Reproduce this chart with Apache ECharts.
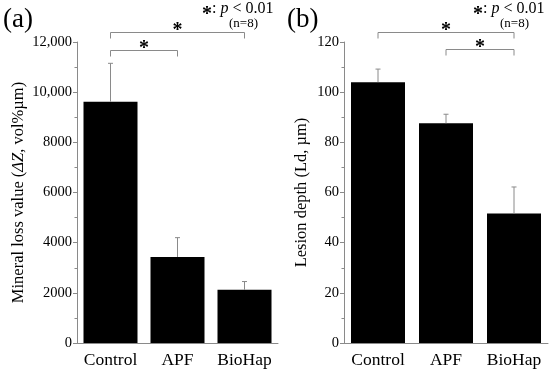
<!DOCTYPE html>
<html><head><meta charset="utf-8">
<script src="https://cdn.jsdelivr.net/npm/echarts@6/dist/echarts.min.js"></script>
<style>html,body{margin:0;padding:0;background:#fff}#c{width:550px;height:370px}</style>
</head><body><div id="c"></div>
<script>
const categories = ['Control', 'APF', 'BioHap'];
const mineralLoss = [9620, 3430, 2120];
const mineralLossSD = [1530, 770, 330];
const lesionDepth = [104, 87.6, 51.6];
const lesionDepthSD = [5.2, 3.6, 10.6];
const mineralTicks = { min: 0, max: 12000, interval: 2000 };
const lesionTicks = { min: 0, max: 120, interval: 20 };
// brackets: [fromIndex, toIndex, level]
const mineralBrackets = [[0, 2, 12400], [0, 1, 11700]];
const lesionBrackets = [[0, 2, 124], [1, 2, 117.2]];

const FONT = 'Liberation Serif';
const GREY = '#8a8a8a';

function errRender(params, api) {
  const i = api.value(0);
  const base = api.coord([i, api.value(1)]);
  const top = api.coord([i, api.value(1) + api.value(2)]);
  return {
    type: 'group',
    children: [
      { type: 'line', shape: { x1: base[0], y1: base[1], x2: top[0], y2: top[1] }, style: { stroke: GREY, lineWidth: 1 } },
      { type: 'line', shape: { x1: top[0] - 2.5, y1: top[1], x2: top[0] + 2.5, y2: top[1] }, style: { stroke: GREY, lineWidth: 1 } }
    ]
  };
}
function bracketRender(params, api) {
  const p0 = api.coord([api.value(0), api.value(2)]);
  const p1 = api.coord([api.value(1), api.value(2)]);
  const y = Math.round(p0[1]) + 0.5;
  return {
    type: 'group',
    children: [
      { type: 'polyline', shape: { points: [[p0[0], y + 6], [p0[0], y], [p1[0], y], [p1[0], y + 6]] }, style: { stroke: GREY, lineWidth: 1, fill: null } },
      { type: 'text', x: (p0[0] + p1[0]) / 2, y: y + 8, style: { text: '*', font: 'bold 20px ' + FONT, fill: '#000', textAlign: 'center', textVerticalAlign: 'bottom' } }
    ]
  };
}
function yAxis(idx, t, name, fmt, gap) {
  return {
    type: 'value', gridIndex: idx, min: t.min, max: t.max, interval: t.interval,
    name: name, nameLocation: 'middle', nameGap: gap,
    nameTextStyle: { fontFamily: FONT, fontSize: 16.5, color: '#000', rich: { i: { fontFamily: FONT, fontSize: 16.5, fontStyle: 'italic', color: '#000' } } },
    axisLine: { show: true, lineStyle: { color: GREY, width: 1 } },
    axisTick: { show: true, length: 4, lineStyle: { color: GREY } },
    minorTick: { show: true, splitNumber: 2, length: 2.5, lineStyle: { color: GREY } },
    splitLine: { show: false },
    axisLabel: { fontFamily: FONT, fontSize: 14.5, color: '#000', margin: 5, formatter: fmt }
  };
}
function xAxis(idx) {
  return {
    type: 'category', gridIndex: idx, data: categories,
    axisLine: { show: true, lineStyle: { color: GREY, width: 1 } },
    axisTick: { show: false },
    axisLabel: { fontFamily: FONT, fontSize: 17.5, color: '#000', margin: 8, interval: 0 }
  };
}
function legend(x) {
  return [
    { type: 'text', left: x, top: 5, style: { text: '*', font: 'bold 20px ' + FONT, fill: '#000' } },
    { type: 'text', left: x + 10, top: 1, style: { text: '{n|: }{i|p}{n| < 0.01}', rich: { n: { font: '16px ' + FONT, fill: '#000' }, i: { font: 'italic 16px ' + FONT, fill: '#000' } } } },
    { type: 'text', left: x + 27, top: 17, style: { text: '(n=8)', font: '13px ' + FONT, fill: '#000' } }
  ];
}
const chart = echarts.init(document.getElementById('c'), null, { renderer: 'canvas' });
chart.setOption({
  animation: false,
  grid: [
    { left: 77, top: 42, width: 201, height: 301 },
    { left: 344, top: 42, width: 204, height: 301 }
  ],
  xAxis: [xAxis(0), xAxis(1)],
  yAxis: [
    yAxis(0, mineralTicks, 'Mineral loss value ({i|\u0394Z}, vol%\u00b5m)', v => v >= 10000 ? v.toLocaleString('en-US') : String(v), 50),
    yAxis(1, lesionTicks, 'Lesion depth (Ld, \u00b5m)', v => String(v), 34)
  ],
  series: [
    { type: 'bar', xAxisIndex: 0, yAxisIndex: 0, data: mineralLoss, barWidth: 54, itemStyle: { color: '#000' }, silent: true },
    { type: 'bar', xAxisIndex: 1, yAxisIndex: 1, data: lesionDepth, barWidth: 54, itemStyle: { color: '#000' }, silent: true },
    { type: 'custom', xAxisIndex: 0, yAxisIndex: 0, clip: false, renderItem: errRender, data: mineralLoss.map((v, i) => [i, v, mineralLossSD[i]]), z: 3 },
    { type: 'custom', xAxisIndex: 1, yAxisIndex: 1, clip: false, renderItem: errRender, data: lesionDepth.map((v, i) => [i, v, lesionDepthSD[i]]), z: 3 },
    { type: 'custom', xAxisIndex: 0, yAxisIndex: 0, clip: false, renderItem: bracketRender, data: mineralBrackets, z: 3 },
    { type: 'custom', xAxisIndex: 1, yAxisIndex: 1, clip: false, renderItem: bracketRender, data: lesionBrackets, z: 3 }
  ],
  graphic: [
    { type: 'text', left: 3, top: 6, style: { text: '(a)', font: '27px ' + FONT, fill: '#000' } },
    { type: 'text', left: 287, top: 6, style: { text: '(b)', font: '27px ' + FONT, fill: '#000' } }
  ].concat(legend(202), legend(473))
});
</script></body></html>
